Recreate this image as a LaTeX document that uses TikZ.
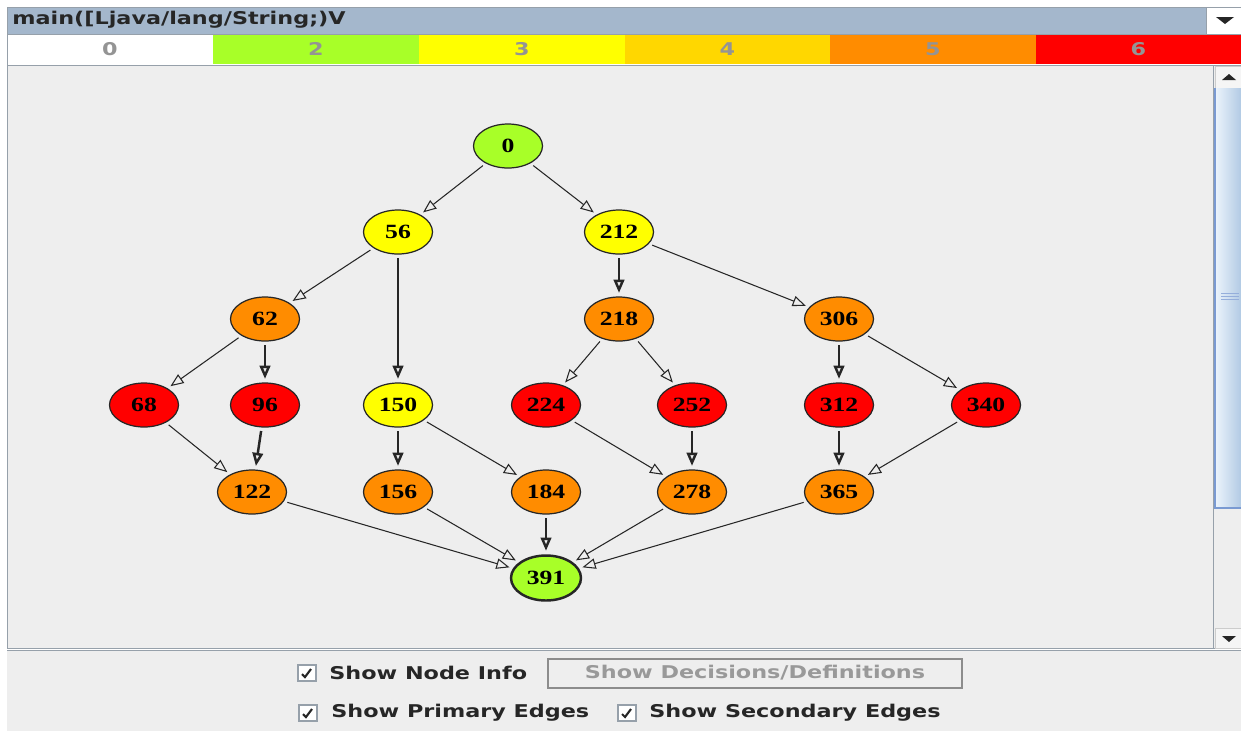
\documentclass[tikz,border=0pt]{standalone}
\usepackage{fontspec}
\usepackage{graphicx}
\setmainfont{Liberation Serif}
\newfontfamily\uifont{DejaVu Sans}
\usetikzlibrary{arrows.meta,shapes.geometric}
\definecolor{panelgray}{RGB}{238,238,238}
\definecolor{framegray}{RGB}{150,160,170}
\definecolor{titleblue}{RGB}{164,183,204}
\definecolor{lvgreen}{RGB}{168,255,40}
\definecolor{lvyellow}{RGB}{255,255,0}
\definecolor{lvgold}{RGB}{255,215,0}
\definecolor{lvorange}{RGB}{255,140,0}
\definecolor{lvred}{RGB}{255,0,0}
\definecolor{thumbleft}{RGB}{236,244,252}
\definecolor{thumbright}{RGB}{178,202,228}
\definecolor{thumbedge}{RGB}{122,154,210}
\newcommand{\wtxt}[1]{\scalebox{1.27}[1]{#1}}
\begin{document}
\begin{tikzpicture}[
  x=0.02cm, y=-0.02cm,
  block/.style={ellipse, draw=black!85, line width=0.7pt, minimum width=1.38cm, minimum height=0.88cm, inner sep=0pt, font=\bfseries\fontsize{11.5}{13}\selectfont},
  endblock/.style={block, line width=1.4pt, minimum width=1.40cm, minimum height=0.90cm},
  secedge/.style={draw=black!85, line width=0.6pt, -{Triangle[open, length=7.5pt, width=6pt]}, shorten <=2pt, shorten >=2pt},
  primedge/.style={secedge, line width=1.4pt},
  uitext/.style={font=\uifont\bfseries\fontsize{10}{12}\selectfont, inner sep=0pt},
  legendtext/.style={font=\uifont\bfseries\fontsize{10}{12}\selectfont, text=black!42, inner sep=0pt},
  checkbox/.style={draw=framegray, fill=white, line width=0.6pt},
  tick/.style={draw=black!85, line width=1.2pt}
  ]
  \useasboundingbox (0,0) rectangle (1241,731);
  \fill[white] (0,0) rectangle (1241,731);

  % title bar and drop-down button
  \draw[framegray, fill=titleblue] (7,7) rectangle (1206,34);
  \node[uitext, anchor=west, text=black!85] (title) at (12,20) {\wtxt{main([Ljava/lang/String;)V}};
  \draw[framegray, fill=white] (1206,7) rectangle (1241,34);
  \fill[black!85] (1216,17) -- (1234,17) -- (1225,24) -- cycle;

  % legend
  \foreach \lab/\xa/\xb/\col in {0/7/213/white, 2/213/419/lvgreen, 3/419/625/lvyellow,
      4/625/830/lvgold, 5/830/1036/lvorange, 6/1036/1241/lvred} {
    \fill[\col] (\xa,35) rectangle (\xb,64);
    \node[legendtext] (leg\lab) at ({(\xa+\xb)/2},49) {\wtxt{\lab}};
  }

  % graph panel
  \draw[framegray, fill=panelgray] (7,65) rectangle (1213,648);
  \draw[framegray] (7,34) -- (7,65);

  % scroll bar
  \draw[framegray, fill=panelgray] (1213,65) rectangle (1241,648);
  \draw[black!20, fill=white!96!black] (1215,66) rectangle (1241,88);
  \fill[black!85] (1222,80) -- (1236,80) -- (1229,74) -- cycle;
  \shade[left color=thumbleft, right color=thumbright] (1215,88) rectangle (1241,508);
  \draw[thumbedge, line width=0.8pt] (1215,88) -- (1215,508) -- (1241,508);
  \foreach \gy in {293,296,299}
    \draw[thumbedge!80, line width=0.4pt] (1221,\gy) -- (1239,\gy);
  \draw[black!20, fill=white!96!black] (1215,628) rectangle (1241,648);
  \fill[black!85] (1222,636) -- (1236,636) -- (1229,642) -- cycle;

  % nodes
  \foreach \n/\x/\y/\col in {0/508/146/lvgreen,
      56/398/232/lvyellow, 212/619/232/lvyellow,
      62/265/319/lvorange, 218/619/319/lvorange, 306/839/319/lvorange,
      68/144/405/lvred, 96/265/405/lvred, 150/398/405/lvyellow, 224/546/405/lvred,
      252/692/405/lvred, 312/839/405/lvred, 340/986/405/lvred,
      122/252/492/lvorange, 156/398/492/lvorange, 184/546/492/lvorange,
      278/692/492/lvorange, 365/839/492/lvorange}
    \node[block, fill=\col] (n\n) at (\x,\y) {\wtxt{\n}};
  \node[endblock, fill=lvgreen] (n391) at (546,578) {\wtxt{391}};

  % edges
  \foreach \a/\b in {0/56, 0/212, 56/62, 212/306, 62/68, 218/224, 218/252, 306/340,
      68/122, 150/184, 224/278, 340/365, 122/391, 156/391, 278/391, 365/391}
    \draw[secedge] (n\a) -- (n\b);
  \foreach \a/\b in {56/150, 212/218, 62/96, 96/122, 150/156, 252/278, 306/312,
      312/365, 184/391}
    \draw[primedge] (n\a) -- (n\b);

  % bottom controls
  \fill[panelgray] (7,650) rectangle (1241,731);
  \draw[framegray] (7,650) -- (1241,650);
  \draw[checkbox] (298,665) rectangle (316,681);
  \draw[tick] (302,674) -- (305,677) -- (311,669);
  \node[uitext, anchor=west, text=black!85] (nodeinfo) at (329,673) {\wtxt{Show Node Info}};
  \draw[black!45, fill=panelgray, line width=0.6pt] (548,659) rectangle (962,688);
  \node[uitext, text=black!40] (decisions) at (755,673) {\wtxt{Show Decisions/Definitions}};
  \draw[checkbox] (299,705) rectangle (317,721);
  \draw[tick] (303,714) -- (306,717) -- (312,709);
  \node[uitext, anchor=west, text=black!85] (primary) at (331,713) {\wtxt{Show Primary Edges}};
  \draw[checkbox] (618,705) rectangle (636,721);
  \draw[tick] (622,714) -- (625,717) -- (631,709);
  \node[uitext, anchor=west, text=black!85] (secondary) at (649,713) {\wtxt{Show Secondary Edges}};
\end{tikzpicture}
\end{document}
